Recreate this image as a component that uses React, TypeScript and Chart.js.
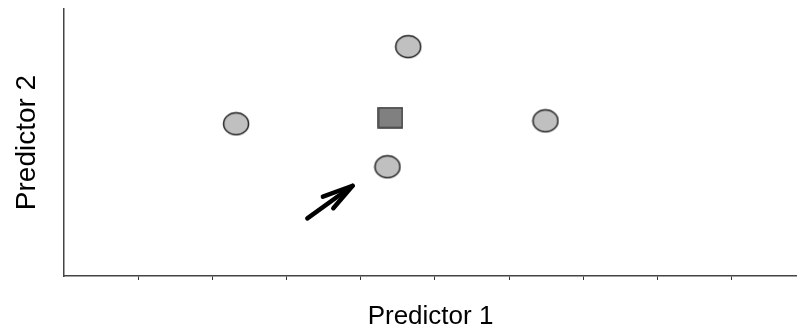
import React, { useEffect, useRef } from "react";
import { Chart, registerables } from "chart.js";

Chart.register(...registerables);

// Data (x = Predictor 1, y = Predictor 2)
const neighbourX = [2.32, 4.64, 6.49, 4.36];
const neighbourY = [5.70, 8.59, 5.81, 4.09];
const queryX = [4.40];
const queryY = [5.93];
const arrowShaftX = [3.28, 3.89];
const arrowShaftY = [2.16, 3.38];
const arrowHeadX = [3.49, 3.89, 3.63];
const arrowHeadY = [2.97, 3.38, 2.54];
const xTickValues = [1, 2, 3, 4, 5, 6, 7, 8, 9];
const xTitle = "Predictor 1";
const yTitle = "Predictor 2";

const FONT = "'Liberation Sans', Arial, Helvetica, sans-serif";

function makeEllipse(): HTMLCanvasElement {
  const c = document.createElement("canvas");
  c.width = 28;
  c.height = 25;
  const ctx = c.getContext("2d")!;
  ctx.beginPath();
  ctx.ellipse(14, 12.5, 12.5, 11, 0, 0, Math.PI * 2);
  ctx.fillStyle = "#c0c0c0";
  ctx.fill();
  ctx.lineWidth = 1.5;
  ctx.strokeStyle = "#222222";
  ctx.stroke();
  return c;
}

function makeSquare(): HTMLCanvasElement {
  const c = document.createElement("canvas");
  c.width = 26;
  c.height = 22;
  const ctx = c.getContext("2d")!;
  ctx.fillStyle = "#808080";
  ctx.fillRect(1, 1, 24, 20);
  ctx.lineWidth = 1.5;
  ctx.strokeStyle = "#333333";
  ctx.strokeRect(1, 1, 24, 20);
  return c;
}

const toPts = (xs: number[], ys: number[]) => xs.map((x, i) => ({ x, y: ys[i] }));

export default function App() {
  const ref = useRef<HTMLCanvasElement | null>(null);
  useEffect(() => {
    if (!ref.current) return;
    const ellipse = makeEllipse();
    const square = makeSquare();
    const chart = new Chart(ref.current, {
      type: "scatter",
      data: {
        datasets: [
          {
            label: "arrow shaft",
            data: toPts(arrowShaftX, arrowShaftY),
            showLine: true,
            borderColor: "#000",
            borderWidth: 4.5,
            borderCapStyle: "round",
            pointRadius: 0,
          } as any,
          {
            label: "arrow head",
            data: toPts(arrowHeadX, arrowHeadY),
            showLine: true,
            borderColor: "#000",
            borderWidth: 4.5,
            borderCapStyle: "round",
            borderJoinStyle: "round",
            pointRadius: 0,
          } as any,
          {
            label: "neighbours",
            data: toPts(neighbourX, neighbourY),
            pointStyle: ellipse,
            pointRadius: 12,
          },
          {
            label: "query",
            data: toPts(queryX, queryY),
            pointStyle: square,
            pointRadius: 12,
          },
        ],
      },
      options: {
        animation: false,
        responsive: false,
        maintainAspectRatio: false,
        devicePixelRatio: 1,
        layout: { autoPadding: false, padding: { top: 9, right: 0, left: 0, bottom: 0 } },
        plugins: { legend: { display: false }, tooltip: { enabled: false } },
        scales: {
          x: {
            type: "linear",
            min: 0,
            max: 9.88,
            afterBuildTicks: (s: any) => {
              s.ticks = xTickValues.map((v) => ({ value: v }));
            },
            afterFit: (s: any) => {
              s.height = 55;
            },
            ticks: { display: false },
            grid: {
              display: true,
              drawOnChartArea: false,
              drawTicks: true,
              tickLength: 4,
              color: "#333",
            },
            border: { display: true, color: "#444", width: 1.5 },
            title: {
              display: true,
              text: xTitle,
              color: "#000",
              font: { family: FONT, size: 26 },
              padding: { top: 0, bottom: -1 },
            },
          },
          y: {
            type: "linear",
            min: 0,
            max: 10,
            afterFit: (s: any) => {
              s.width = 64;
            },
            ticks: { display: false },
            grid: { display: false, drawTicks: false },
            border: { display: true, color: "#444", width: 1.5 },
            title: {
              display: true,
              text: yTitle,
              color: "#000",
              font: { family: FONT, size: 28 },
              padding: { top: 10, bottom: 0 },
            },
          },
        },
      },
    });
    return () => chart.destroy();
  }, []);
  return (
    <div style={{ position: "fixed", left: 0, top: 0, width: 797, height: 331, background: "#fff" }}>
      <canvas ref={ref} width={797} height={331} style={{ width: 797, height: 331, display: "block" }} />
    </div>
  );
}
